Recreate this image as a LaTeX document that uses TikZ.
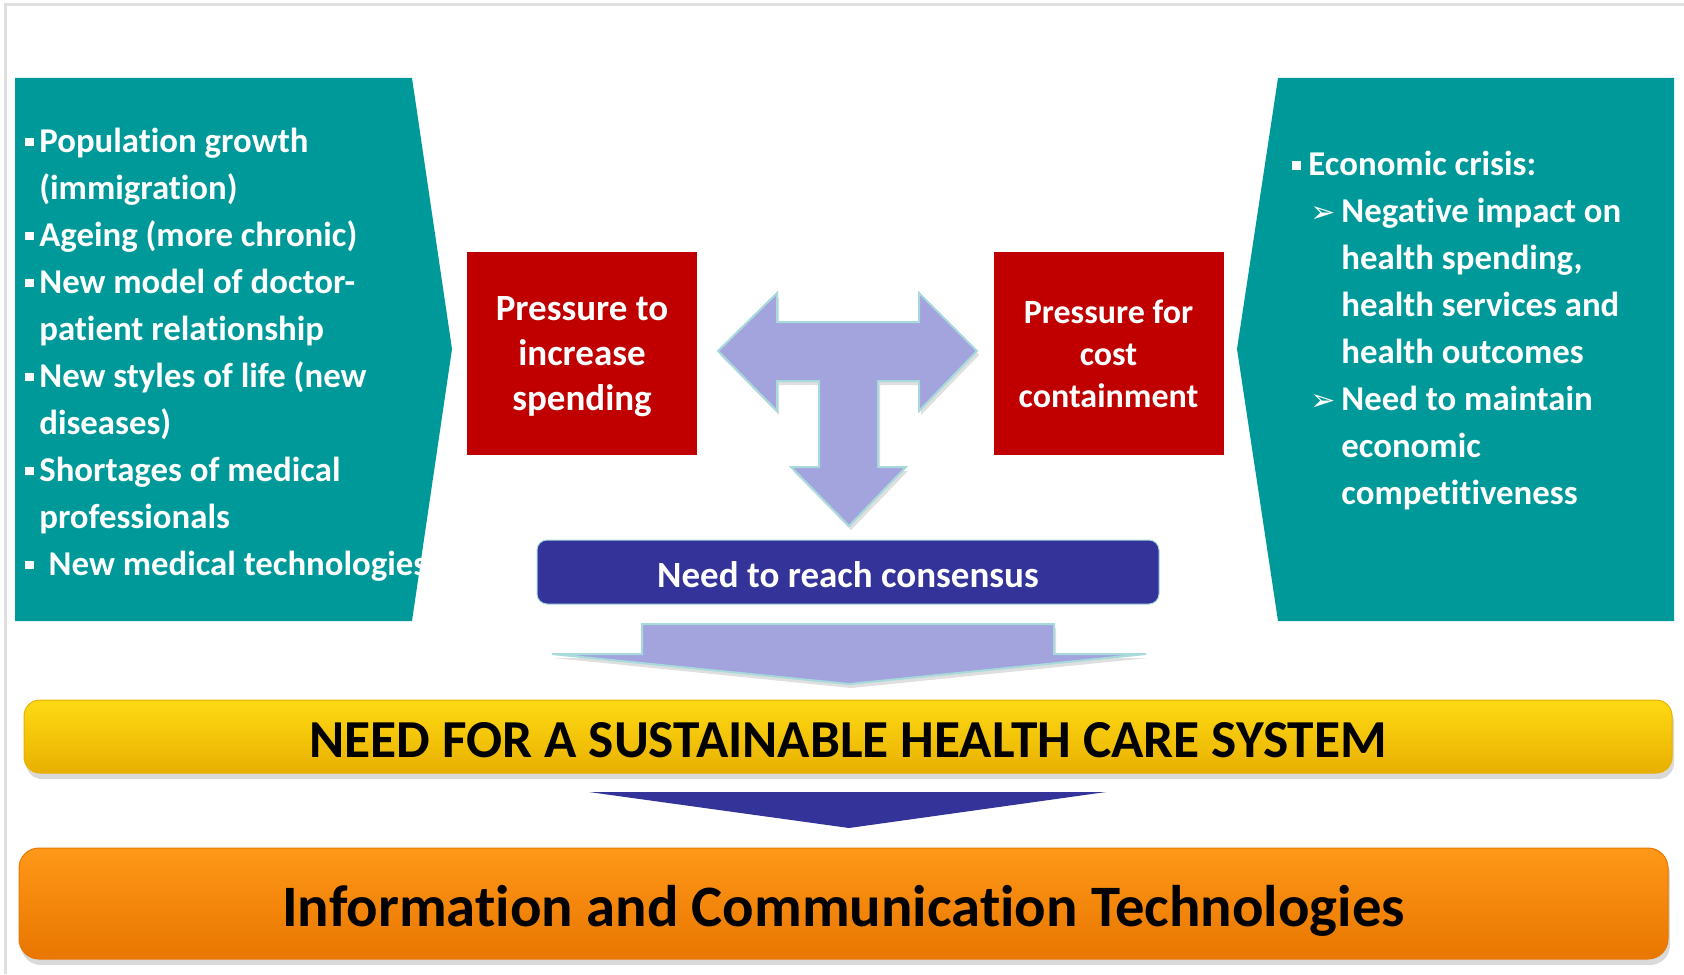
\documentclass[tikz,border=0pt]{standalone}
\usepackage{fontspec}
\setmainfont{Carlito}[Ligatures={NoCommon}]
\newfontfamily\dingfont{DejaVu Sans}
\usetikzlibrary{shadows}
\definecolor{tealbox}{RGB}{0,153,153}
\definecolor{redbox}{RGB}{192,0,0}
\definecolor{lavender}{RGB}{163,163,222}
\definecolor{arrowedge}{RGB}{168,218,220}
\definecolor{navy}{RGB}{51,51,153}
\definecolor{borderline}{RGB}{224,224,224}
\definecolor{yellowtop}{RGB}{255,218,20}
\definecolor{yellowmid}{RGB}{255,204,0}
\definecolor{yellowbot}{RGB}{232,176,0}
\definecolor{orangetop}{RGB}{255,152,24}
\definecolor{orangemid}{RGB}{255,138,0}
\definecolor{orangebot}{RGB}{232,118,0}
\newcommand{\sqbul}{\rule[0.16em]{0.25em}{0.25em}}
\newcommand{\arrbul}{{\dingfont\fontsize{15}{15}\selectfont ➢}}
\begin{document}
\begin{tikzpicture}[x=0.5pt,y=0.5pt]
\tikzstyle{every node}+=[inner sep=0pt]
\tikzstyle{listtext}=[text=white,anchor=base west,font=\bfseries\fontsize{17.4}{23.5}\selectfont]
\tikzstyle{pressure}=[fill=redbox,text=white,align=center,minimum width=115pt,minimum height=101.5pt]
\tikzstyle{blockarrow}=[fill=lavender,draw=arrowedge,line width=1pt,drop shadow={shadow xshift=1pt,shadow yshift=-2pt,opacity=0.25}]
\tikzstyle{bar}=[rounded corners=8pt,align=center,text depth=0pt,drop shadow={shadow xshift=1pt,shadow yshift=-3pt,opacity=0.3}]
\useasboundingbox (0,0) rectangle (1684,-974);
\draw [borderline,line width=1.5pt] (5,-974) -- (5,-4.5) -- (1684,-4.5);
\fill [tealbox] (15,-78) -- (412,-78) -- (452,-349) -- (412,-621) -- (15,-621) -- cycle;
\fill [tealbox] (1278,-78) -- (1674,-78) -- (1674,-621) -- (1278,-621) -- (1237,-349) -- cycle;
\node [listtext] (causes) at (25,-152) {\begin{tabular}[t]{@{}l@{}}
\makebox[0.4em][l]{\sqbul}Population growth\\
\hspace*{0.4em}(immigration)\\
\makebox[0.4em][l]{\sqbul}Ageing (more chronic)\\
\makebox[0.4em][l]{\sqbul}New model of doctor-\\
\hspace*{0.4em}patient relationship\\
\makebox[0.4em][l]{\sqbul}New styles of life (new\\
\hspace*{0.4em}diseases)\\
\makebox[0.4em][l]{\sqbul}Shortages of medical\\
\hspace*{0.4em}professionals\\
\makebox[0.67em][l]{\sqbul}New medical technologies
\end{tabular}};
\node [listtext] (crisis) at (1292,-175.5) {\begin{tabular}[t]{@{}l@{}}
\makebox[8pt][l]{\sqbul}Economic crisis:\\
\hspace*{9pt}\makebox[15.5pt][l]{\arrbul}Negative impact on\\
\hspace*{24.5pt}health spending,\\
\hspace*{24.5pt}health services and\\
\hspace*{24.5pt}health outcomes\\
\hspace*{9pt}\makebox[15.5pt][l]{\arrbul}Need to maintain\\
\hspace*{24.5pt}economic\\
\hspace*{24.5pt}competitiveness
\end{tabular}};
\node [pressure,text depth=0pt,font=\bfseries\fontsize{18.5}{22.5}\selectfont] (spend) at (582,-353.5) {Pressure to\\increase\\spending};
\node [pressure,font=\bfseries\fontsize{17}{21}\selectfont] (cost) at (1108.5,-353.5) {Pressure for\\cost\\containment};
\draw [blockarrow] (718,-351) -- (777,-293) -- (777,-322) -- (919,-322) -- (919,-293) -- (977,-351) -- (919,-411) -- (919,-381) -- (878,-381) -- (878,-467) -- (906,-467) -- (849,-526) -- (791,-467) -- (819,-467) -- (819,-381) -- (777,-381) -- (777,-411) -- cycle;
\node [fill=navy,draw=arrowedge,line width=0.5pt,rounded corners=5pt,minimum width=311pt,minimum height=32pt,text height=15.5pt,text depth=0pt,text=white,font=\bfseries\fontsize{18.5}{22}\selectfont] (consensus) at (848,-572) {Need to reach consensus};
\draw [blockarrow] (642,-624) -- (1054,-624) -- (1054,-654) -- (1146,-654) -- (849,-684) -- (552,-654) -- (642,-654) -- cycle;
\node [bar,top color=yellowtop,middle color=yellowmid,bottom color=yellowbot,draw=yellowbot,line width=0.5pt,minimum width=824pt,minimum height=36.5pt,text height=20.5pt,font=\bfseries\fontsize{26.7}{30}\selectfont] (sustain) at (848,-736.5) {NEED FOR A SUSTAINABLE HEALTH CARE SYSTEM};
\fill [navy] (589,-792) -- (1106,-792) -- (849,-828) -- cycle;
\node [bar,rounded corners=10pt,top color=orangetop,middle color=orangemid,bottom color=orangebot,draw=orangebot,line width=0.5pt,minimum width=824.5pt,minimum height=55.5pt,text height=22.5pt,font=\bfseries\fontsize{29.35}{32}\selectfont] (ict) at (843.5,-903.5) {Information and Communication Technologies};
\end{tikzpicture}
\end{document}
